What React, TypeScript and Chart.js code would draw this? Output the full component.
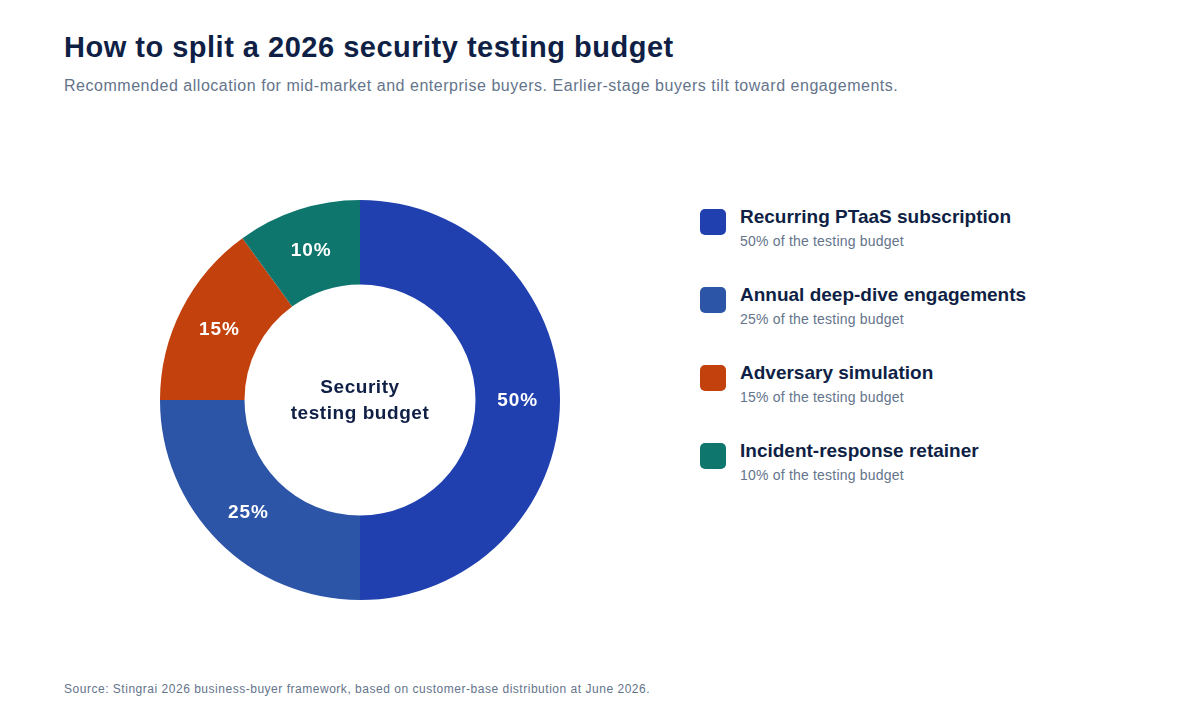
import React, { useEffect, useRef } from 'react';
import { Chart, ChartConfiguration, Plugin, registerables } from 'chart.js';

Chart.register(...registerables);

// Chart data
const categories = [
  'Recurring PTaaS subscription',
  'Annual deep-dive engagements',
  'Adversary simulation',
  'Incident-response retainer',
];
const shares = [50, 25, 15, 10];
const sliceColors = ['#1F40AE', '#2C55A8', '#C2410C', '#0F766E'];
const centerLines = ['Security', 'testing budget'];

const FONT = '"Liberation Sans", Arial, Helvetica, sans-serif';
const NAVY = '#0F1F45';
const SLATE = '#64748B';

// Draws the percentage on each slice and the caption in the hole
const labelPlugin: Plugin<'doughnut'> = {
  id: 'sliceLabels',
  afterDatasetsDraw(chart) {
    const ctx = chart.ctx as CanvasRenderingContext2D & { letterSpacing?: string };
    const meta = chart.getDatasetMeta(0);
    ctx.save();
    ctx.textAlign = 'center';
    ctx.textBaseline = 'middle';
    ctx.fillStyle = '#FFFFFF';
    ctx.font = `bold 19px ${FONT}`;
    ctx.letterSpacing = '1px';
    meta.data.forEach((arc, i) => {
      const p = (arc as any).tooltipPosition(false);
      ctx.fillText(`${shares[i]}%`, p.x, p.y + 1);
    });
    const first = meta.data[0] as any;
    if (first) {
      ctx.fillStyle = NAVY;
      ctx.font = `bold 19px ${FONT}`;
      ctx.letterSpacing = '0.55px';
      ctx.fillText(centerLines[0], first.x, first.y - 12);
      ctx.fillText(centerLines[1], first.x, first.y + 14);
    }
    ctx.restore();
  },
};

const BudgetDonut: React.FC = () => {
  const chartRef = useRef<HTMLCanvasElement | null>(null);
  const chartInstance = useRef<Chart<'doughnut'> | null>(null);

  useEffect(() => {
    if (!chartRef.current) return;
    if (chartInstance.current) chartInstance.current.destroy();

    const config: ChartConfiguration<'doughnut'> = {
      type: 'doughnut',
      data: {
        labels: categories,
        datasets: [
          {
            data: shares,
            backgroundColor: sliceColors,
            borderWidth: 0,
            hoverOffset: 0,
          },
        ],
      },
      options: {
        responsive: true,
        maintainAspectRatio: false,
        animation: false,
        cutout: '57.75%',
        layout: { padding: 10 },
        plugins: {
          legend: { display: false },
          tooltip: { enabled: false },
        },
      },
      plugins: [labelPlugin],
    };

    chartInstance.current = new Chart(chartRef.current, config);

    return () => {
      if (chartInstance.current) {
        chartInstance.current.destroy();
        chartInstance.current = null;
      }
    };
  }, []);

  return (
    <div style={{ position: 'absolute', left: 150, top: 190, width: 420, height: 420 }}>
      <canvas ref={chartRef} />
    </div>
  );
};

const App: React.FC = () => {
  return (
    <div
      style={{
        position: 'fixed',
        inset: 0,
        background: '#FFFFFF',
        fontFamily: FONT,
        overflow: 'hidden',
      }}
    >
      <div style={{ position: 'relative', width: 1200, height: 720 }}>
        <div
          style={{
            position: 'absolute',
            left: 64,
            top: 31,
            fontSize: 29,
            fontWeight: 700,
            letterSpacing: 0.5,
            color: NAVY,
            whiteSpace: 'nowrap',
          }}
        >
          How to split a 2026 security testing budget
        </div>
        <div
          style={{
            position: 'absolute',
            left: 64,
            top: 77,
            fontSize: 16,
            letterSpacing: 0.53,
            color: SLATE,
            whiteSpace: 'nowrap',
          }}
        >
          Recommended allocation for mid-market and enterprise buyers. Earlier-stage buyers tilt toward engagements.
        </div>

        <BudgetDonut />

        {categories.map((name, i) => (
          <div
            key={name}
            style={{ position: 'absolute', left: 700, top: 205 + i * 78, height: 50 }}
          >
            <div
              style={{
                position: 'absolute',
                left: 0,
                top: 4,
                width: 26,
                height: 26,
                borderRadius: 5,
                background: sliceColors[i],
              }}
            />
            <div
              style={{
                position: 'absolute',
                left: 40,
                top: 1,
                fontSize: 19,
                fontWeight: 700,
                color: NAVY,
                whiteSpace: 'nowrap',
              }}
            >
              {name}
            </div>
            <div
              style={{
                position: 'absolute',
                left: 40,
                top: 28,
                fontSize: 14,
                letterSpacing: 0.2,
                color: SLATE,
                whiteSpace: 'nowrap',
              }}
            >
              {`${shares[i]}% of the testing budget`}
            </div>
          </div>
        ))}

        <div
          style={{
            position: 'absolute',
            left: 64,
            top: 682,
            fontSize: 12,
            letterSpacing: 0.52,
            color: SLATE,
            whiteSpace: 'nowrap',
          }}
        >
          Source: Stingrai 2026 business-buyer framework, based on customer-base distribution at June 2026.
        </div>
      </div>
    </div>
  );
};

export default App;
